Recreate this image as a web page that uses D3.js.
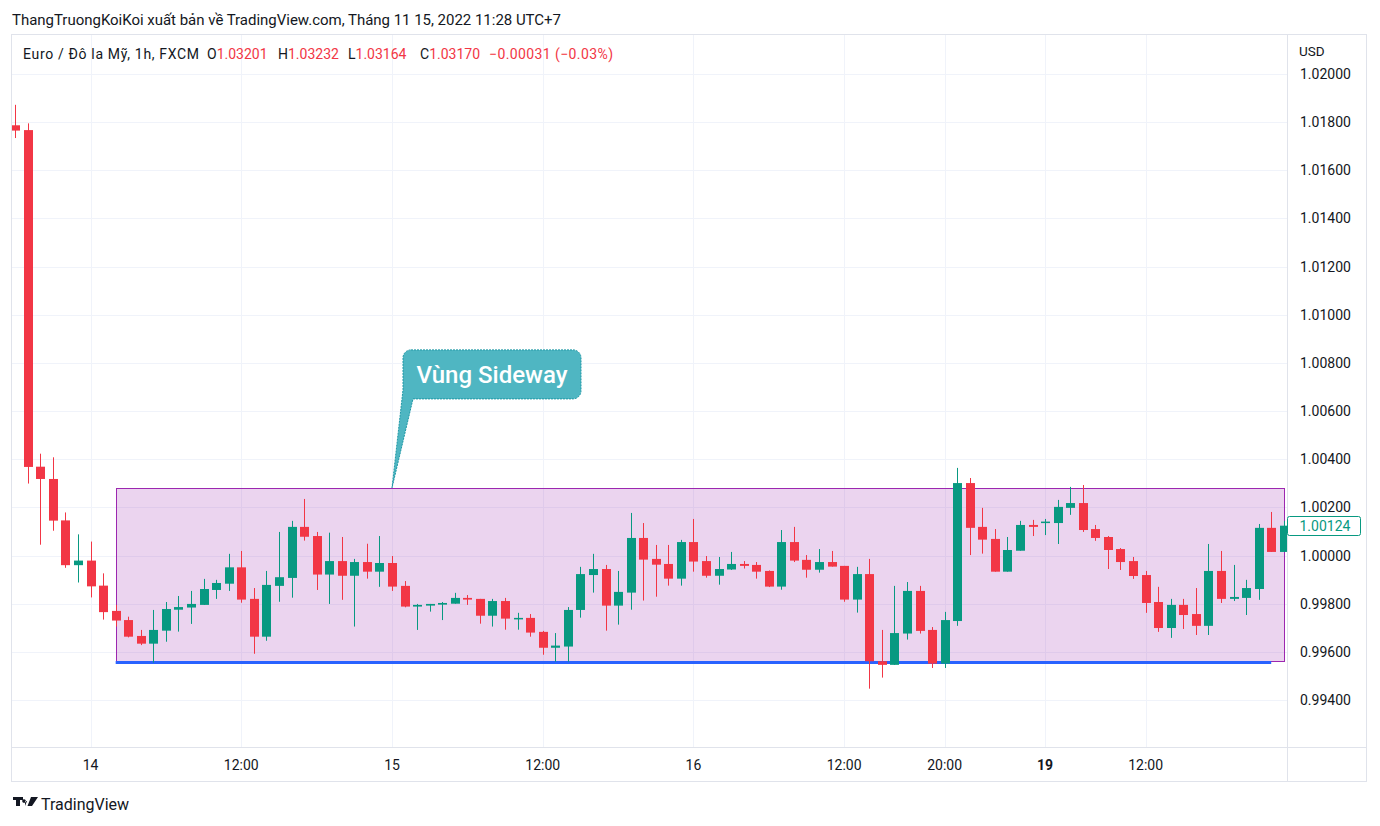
<!DOCTYPE html>
<html><head><meta charset="utf-8">
<script src="https://cdn.jsdelivr.net/npm/d3@7/dist/d3.min.js"></script>
<style>
body{margin:0;background:#fff;}
svg{display:block;font-family:Roboto,"Noto Sans",sans-serif;}
</style></head><body>
<svg id="c" width="1380" height="826"></svg>
<script>
// ---- DATA (EUR/USD 1h, FXCM) ----
const opens  = [1.01787,1.01767,1.00369,1.00318,1.00146,0.99960,0.99979,0.99875,0.99770,0.99732,
                0.99666,0.99634,0.99688,0.99775,0.99784,0.99795,0.99857,0.99883,0.99951,0.99820,
                0.99663,0.99874,0.99907,1.00119,1.00081,0.99921,0.99977,0.99916,0.99973,0.99933,
                0.99969,0.99874,0.99788,0.99792,0.99796,0.99800,0.99824,0.99820,0.99750,0.99811,
                0.99738,0.99741,0.99683,0.99617,0.99622,0.99774,0.99919,0.99944,0.99792,0.99846,
                1.00073,0.99986,0.99965,0.99904,1.00056,0.99977,0.99916,0.99942,0.99965,0.99961,
                0.99936,0.99871,1.00056,0.99982,0.99941,0.99973,0.99957,0.99817,0.99923,0.99561,
                0.99546,0.99676,0.99853,0.99691,0.99551,0.99728,1.00301,1.00119,1.00069,0.99933,
                1.00020,1.00127,1.00135,1.00135,1.00198,1.00218,1.00110,1.00077,1.00027,0.99977,
                0.99919,0.99807,0.99699,0.99795,0.99757,0.99708,0.99936,0.99820,0.99824,0.99861,
                1.00115,1.00015];
const highs  = [1.01872,1.01795,1.00423,1.00408,1.00179,1.00088,1.00058,0.99926,0.99795,0.99746,
                0.99691,0.99774,0.99807,0.99832,0.99853,0.99903,0.99899,1.00007,1.00019,0.99865,
                0.99936,1.00098,1.00144,1.00235,1.00098,1.00095,1.00077,0.99986,1.00049,1.00081,
                0.99998,0.99894,0.99799,0.99799,0.99807,0.99845,0.99836,0.99820,0.99820,0.99824,
                0.99762,0.99757,0.99687,0.99678,0.99786,0.99953,1.00007,0.99961,0.99936,1.00177,
                1.00135,1.00044,1.00044,1.00065,1.00152,0.99998,0.99994,1.00015,0.99977,0.99973,
                0.99938,1.00106,1.00119,1.00002,1.00027,1.00019,0.99957,0.99953,0.99986,0.99691,
                0.99874,0.99890,0.99874,0.99703,0.99766,1.00364,1.00322,1.00198,1.00110,1.00077,
                1.00144,1.00148,1.00152,1.00231,1.00285,1.00293,1.00127,1.00081,1.00031,0.99994,
                0.99936,0.99870,0.99820,0.99820,0.99865,1.00048,1.00019,0.99961,0.99899,1.00131,
                1.00181,1.00144];
const lows   = [1.01734,1.00299,1.00045,1.00103,0.99949,0.99888,0.99826,0.99734,0.99705,0.99660,
                0.99628,0.99555,0.99642,0.99684,0.99716,0.99795,0.99820,0.99853,0.99804,0.99592,
                0.99646,0.99808,0.99825,1.00062,0.99857,0.99799,0.99816,0.99705,0.99904,0.99870,
                0.99853,0.99785,0.99691,0.99767,0.99732,0.99800,0.99795,0.99717,0.99705,0.99692,
                0.99692,0.99663,0.99588,0.99559,0.99559,0.99742,0.99846,0.99688,0.99713,0.99775,
                0.99813,0.99829,0.99875,0.99875,0.99933,0.99908,0.99879,0.99940,0.99946,0.99904,
                0.99869,0.99858,0.99973,0.99908,0.99929,0.99954,0.99808,0.99763,0.99447,0.99493,
                0.99546,0.99651,0.99676,0.99533,0.99533,0.99708,1.00002,1.00008,0.99933,0.99933,
                1.00020,1.00081,1.00085,1.00048,1.00169,1.00098,1.00061,0.99944,0.99940,0.99903,
                0.99762,0.99683,0.99658,0.99695,0.99670,0.99670,0.99803,0.99811,0.99753,0.99816,
                1.00015,1.00015];
const closes = [1.01765,1.00368,1.00318,1.00145,0.99960,0.99979,0.99872,0.99765,0.99730,0.99663,
                0.99634,0.99691,0.99778,0.99786,0.99799,0.99861,0.99886,0.99951,0.99817,0.99663,
                0.99878,0.99910,1.00119,1.00078,0.99921,0.99977,0.99916,0.99973,0.99933,0.99969,
                0.99871,0.99788,0.99795,0.99799,0.99803,0.99824,0.99817,0.99750,0.99811,0.99738,
                0.99741,0.99680,0.99617,0.99626,0.99774,0.99923,0.99944,0.99792,0.99849,1.00073,
                0.99983,0.99962,0.99904,1.00056,0.99975,0.99916,0.99944,0.99965,0.99957,0.99933,
                0.99871,1.00056,0.99979,0.99941,0.99973,0.99954,0.99817,0.99923,0.99561,0.99546,
                0.99678,0.99853,0.99687,0.99551,0.99732,1.00301,1.00115,1.00066,0.99933,1.00023,
                1.00127,1.00119,1.00141,1.00202,1.00218,1.00106,1.00073,1.00023,0.99973,0.99915,
                0.99803,0.99699,0.99795,0.99753,0.99708,0.99936,0.99820,0.99828,0.99865,1.00115,
                1.00015,1.00124];
const xTickBars   = [6, 18, 30, 42, 54, 66, 74, 82, 90];
const xTickLabels = ["14","12:00","15","12:00","16","12:00","20:00","19","12:00"];
const yTicks = [0.994,0.996,0.998,1.000,1.002,1.004,1.006,1.008,1.010,1.012,1.014,1.016,1.018,1.020];
// Annotations (in data terms)
const zoneStartBar = 8, zoneEndBar = 101, zoneTop = 1.00281, zoneBottom = 0.99560;
const supportPrice = 0.99556, supportEndBar = 100;
const calloutBar = 30, calloutText = "Vùng Sideway";
const lastPrice = 1.00124;
const legendKeys = ["O","H","L","C"];
const legendValues = ["1.03201","1.03232","1.03164","1.03170"];
const legendChange = "−0.00031 (−0.03%)";

// ---- LAYOUT ----
const svg = d3.select("#c");
const frame = {l:11.5, r:1366.5, t:34.5, b:781.5};
const plot = {l:12, r:1287, t:35, b:747};
const RED = "#f23645", GREEN = "#089981";

const x = d3.scaleLinear().domain([0, 101]).range([15.2, 15.2 + 12.56*101]);
const y = d3.scaleLinear().domain([0.994, 1.020]).range([700, 74]);
const bodyW = 9;

// Header
svg.append("text").attr("x",12).attr("y",25).attr("font-size",15).attr("fill","#131722")
  .attr("textLength",549).attr("lengthAdjust","spacing")
  .text("ThangTruongKoiKoi xuất bản về TradingView.com, Tháng 11 15, 2022 11:28 UTC+7");

// Frame
const fr = svg.append("g").attr("fill","none").attr("stroke","#e0e3eb");
fr.append("rect").attr("x",frame.l).attr("y",frame.t).attr("width",frame.r-frame.l).attr("height",frame.b-frame.t);
fr.append("line").attr("x1",frame.l).attr("x2",frame.r).attr("y1",plot.b+0.5).attr("y2",plot.b+0.5);
fr.append("line").attr("x1",plot.r+0.5).attr("x2",plot.r+0.5).attr("y1",frame.t).attr("y2",frame.b);

// Clip
svg.append("defs").append("clipPath").attr("id","pc").append("rect")
  .attr("x",plot.l).attr("y",plot.t).attr("width",plot.r-plot.l).attr("height",plot.b-plot.t);
const g = svg.append("g").attr("clip-path","url(#pc)");

// Grid
g.append("g").selectAll("line").data(yTicks).join("line")
  .attr("x1",plot.l).attr("x2",plot.r)
  .attr("y1",d=>Math.round(y(d))+0.5).attr("y2",d=>Math.round(y(d))+0.5)
  .attr("stroke","#f0f3fa");
g.append("g").selectAll("line").data(xTickBars).join("line")
  .attr("y1",plot.t).attr("y2",plot.b)
  .attr("x1",d=>Math.round(x(d))+0.5).attr("x2",d=>Math.round(x(d))+0.5)
  .attr("stroke","#f0f3fa");

// Sideway zone rectangle
g.append("rect")
  .attr("x",Math.round(x(zoneStartBar))+0.5).attr("y",Math.round(y(zoneTop))+0.5)
  .attr("width",Math.round(x(zoneEndBar))-Math.round(x(zoneStartBar)))
  .attr("height",Math.round(y(zoneBottom))-Math.round(y(zoneTop)))
  .attr("fill","rgba(156,39,176,0.2)").attr("stroke","#9c27b0").attr("stroke-width",1);

// Support line
g.append("line")
  .attr("x1",x(zoneStartBar)).attr("x2",x(supportEndBar))
  .attr("y1",y(supportPrice)).attr("y2",y(supportPrice))
  .attr("stroke","#2962ff").attr("stroke-width",3);

// Candles
const bars = d3.range(opens.length).map(i=>({i,o:opens[i],h:highs[i],l:lows[i],c:closes[i]}));
const cg = g.append("g").selectAll("g").data(bars).join("g")
  .attr("fill",d=>d.c>=d.o?GREEN:RED).attr("stroke",d=>d.c>=d.o?GREEN:RED);
cg.append("line")
  .attr("x1",d=>Math.round(x(d.i))+0.5).attr("x2",d=>Math.round(x(d.i))+0.5)
  .attr("y1",d=>y(d.h)).attr("y2",d=>y(d.l)).attr("stroke-width",1);
cg.append("rect")
  .attr("x",d=>Math.round(x(d.i))-Math.floor(bodyW/2))
  .attr("width",bodyW)
  .attr("y",d=>y(Math.max(d.o,d.c)))
  .attr("height",d=>Math.max(1.5, Math.abs(y(d.o)-y(d.c))))
  .attr("stroke","none");

// Callout
const ax = x(calloutBar), ay = y(zoneTop);
const bx0 = ax+11, by0 = ay-138, bw = 178, bh = 49, rr = 8;
const cal = svg.append("g");
const path = d3.path();
path.moveTo(bx0+rr, by0);
path.lineTo(bx0+bw-rr, by0); path.arcTo(bx0+bw, by0, bx0+bw, by0+rr, rr);
path.lineTo(bx0+bw, by0+bh-rr); path.arcTo(bx0+bw, by0+bh, bx0+bw-rr, by0+bh, rr);
path.lineTo(bx0+10, by0+bh);
path.lineTo(ax, ay);
path.lineTo(bx0, by0+bh-9);
path.lineTo(bx0, by0+rr); path.arcTo(bx0, by0, bx0+rr, by0, rr);
path.closePath();
cal.append("path").attr("d",path.toString()).attr("fill","#4fb6c2")
  .attr("stroke","#1e98a6").attr("stroke-width",1).attr("stroke-dasharray","2,1");
cal.append("text").attr("x",bx0+bw/2).attr("y",by0+33).attr("text-anchor","middle")
  .attr("font-size",24).attr("font-weight",500).attr("fill","#ffffff").text(calloutText);

// Legend
const lgY = 59, lgSize = 14;
svg.append("text").attr("x",23).attr("y",lgY).attr("font-size",lgSize).attr("fill","#131722")
  .attr("textLength",176).attr("lengthAdjust","spacing")
  .text("Euro / Đô la Mỹ, 1h, FXCM");
const lgX = [207, 278, 348, 420];
legendKeys.forEach((k,i)=>{
  const t = svg.append("text").attr("x",lgX[i]).attr("y",lgY).attr("font-size",lgSize).attr("fill","#131722");
  t.append("tspan").text(k);
  t.append("tspan").attr("fill",RED).text(legendValues[i]);
});
svg.append("text").attr("x",489).attr("y",lgY).attr("font-size",lgSize).attr("fill",RED)
  .attr("textLength",124).attr("lengthAdjust","spacing").text(legendChange);

// Y axis
const yAxis = d3.axisRight(y).tickValues(yTicks).tickFormat(d3.format(".5f")).tickSize(0).tickPadding(0);
const ya = svg.append("g").attr("transform",`translate(1300,0)`).call(yAxis);
ya.select(".domain").remove();
ya.selectAll("text").attr("font-family","Roboto,'Noto Sans',sans-serif").attr("font-size",14).attr("fill","#131722");
svg.append("text").attr("x",1299).attr("y",56).attr("font-size",13.5).attr("fill","#131722").text("USD");

// Last price label
const lp = svg.append("g").attr("transform",`translate(1287.5,${Math.round(y(lastPrice))-9.5})`);
lp.append("rect").attr("width",73).attr("height",19).attr("rx",2).attr("fill","#fff").attr("stroke",GREEN);
lp.append("text").attr("x",12).attr("y",14.5).attr("font-size",14).attr("fill",GREEN).text(d3.format(".5f")(lastPrice));

// X axis
const xa = svg.append("g");
xa.selectAll("text").data(xTickBars).join("text")
  .attr("x",d=>x(d)).attr("y",770).attr("text-anchor","middle").attr("font-size",14)
  .attr("font-weight",(d,i)=>xTickLabels[i]==="19"?700:400)
  .attr("fill","#131722").text((d,i)=>xTickLabels[i]);

// TradingView logo
const logo = svg.append("g").attr("transform","translate(13,797)").attr("fill","#131722");
logo.append("path").attr("d","M0 0H10V3H7V9H3V3H0Z M11 2.2a1.8 1.8 0 1 0 0.01 0 M18 0H25L19 9H14.5Z M12 4H14L12 9Z");
logo.append("text").attr("x",28).attr("y",13).attr("font-size",16).text("TradingView");
</script>
</body></html>
